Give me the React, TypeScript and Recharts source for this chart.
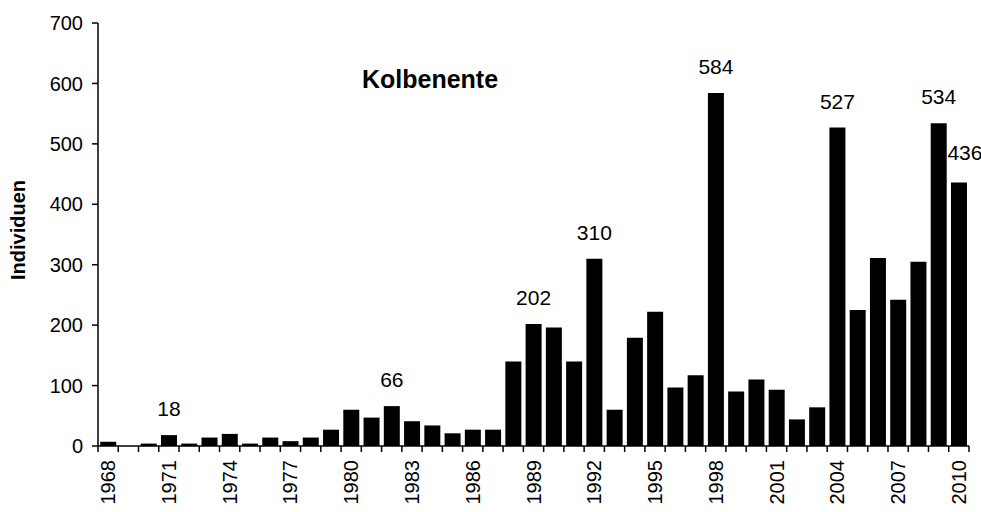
import React from 'react';
import { BarChart, Bar, XAxis, YAxis, LabelList } from 'recharts';

const years = [
  '1968', '1969', '1970', '1971', '1972', '1973', '1974', '1975', '1976', '1977',
  '1978', '1979', '1980', '1981', '1982', '1983', '1984', '1985', '1986', '1987',
  '1988', '1989', '1990', '1991', '1992', '1993', '1994', '1995', '1996', '1997',
  '1998', '1999', '2000', '2001', '2002', '2003', '2004', '2005', '2006', '2007',
  '2008', '2009', '2010',
];
const counts = [
  7, 0, 4, 18, 4, 14, 20, 4, 14, 8,
  14, 27, 60, 47, 66, 41, 34, 21, 27, 27,
  140, 202, 196, 140, 310, 60, 179, 222, 97, 117,
  584, 90, 110, 93, 44, 64, 527, 225, 311, 242,
  305, 534, 436,
];
const labeledYears = ['1971', '1982', '1989', '1992', '1998', '2004', '2009', '2010'];
const yTicks = [0, 100, 200, 300, 400, 500, 600, 700];
const xTickLabels = ['1968', '1971', '1974', '1977', '1980', '1983', '1986', '1989', '1992', '1995', '1998', '2001', '2004', '2007', '2010'];
const chartTitle = 'Kolbenente';
const yAxisTitle = 'Individuen';

const data = years.map((y, i) => ({ year: y, value: counts[i] }));

const W = 981;
const H = 512;
const M = { top: 23, right: 12, bottom: 0, left: 0 };
const Y_AXIS_W = 98;
const X_AXIS_H = 66;
const PLOT_LEFT = M.left + Y_AXIS_W;
const PLOT_RIGHT = W - M.right;
const BAND = (PLOT_RIGHT - PLOT_LEFT) / years.length;
const BASE = H - M.bottom - X_AXIS_H;
const FONT = '"Liberation Sans", Arial, sans-serif';

const XTick = (props: any) => {
  const { x, payload } = props;
  const idx = years.indexOf(String(payload.value));
  const left = x - BAND / 2;
  const isLast = idx === years.length - 1;
  const show = xTickLabels.includes(String(payload.value));
  const ty = BASE + 14;
  return (
    <g>
      <line x1={left} x2={left} y1={BASE} y2={BASE + 6} stroke="#000" strokeWidth={1.5} />
      {isLast && (
        <line x1={x + BAND / 2} x2={x + BAND / 2} y1={BASE} y2={BASE + 6} stroke="#000" strokeWidth={1.5} />
      )}
      {show && (
        <text
          x={x}
          y={ty}
          transform={`rotate(-90 ${x} ${ty})`}
          textAnchor="end"
          dominantBaseline="central"
          fontSize={20}
          fontFamily={FONT}
          fill="#000"
        >
          {payload.value}
        </text>
      )}
    </g>
  );
};

const ValueLabel = (props: any) => {
  const { x, y, width, value } = props;
  const cx = Number(x) + Number(width) / 2;
  const idx = Math.floor((cx - PLOT_LEFT) / BAND);
  const yr = years[idx];
  if (!labeledYears.includes(yr)) return null;
  const isLast = yr === '2010';
  return (
    <text
      x={cx + (isLast ? 6 : 0)}
      y={Number(y) - (isLast ? 23 : 19)}
      textAnchor="middle"
      fontSize={21}
      fontFamily={FONT}
      fill="#000"
    >
      {value}
    </text>
  );
};

export default function App() {
  return (
    <div style={{ position: 'absolute', left: 0, top: 0, width: W, height: H, background: '#fff' }}>
      <BarChart width={W} height={H} data={data} margin={M} barCategoryGap="11%">
        <XAxis
          dataKey="year"
          interval={0}
          height={X_AXIS_H}
          tick={<XTick />}
          tickLine={false}
          axisLine={{ stroke: '#000', strokeWidth: 1.5 }}
        />
        <YAxis
          width={Y_AXIS_W}
          domain={[0, 700]}
          ticks={yTicks}
          interval={0}
          tickSize={6}
          tickMargin={9}
          axisLine={{ stroke: '#000', strokeWidth: 1.5 }}
          tickLine={{ stroke: '#000', strokeWidth: 1.5 }}
          tick={{ fill: '#000', fontSize: 20, fontFamily: FONT }}
        />
        <Bar dataKey="value" fill="#000" isAnimationActive={false}>
          <LabelList dataKey="value" content={<ValueLabel />} />
        </Bar>
      </BarChart>
      <svg width={W} height={H} style={{ position: 'absolute', left: 0, top: 0, pointerEvents: 'none' }}>
        <text x={430} y={88} textAnchor="middle" fontSize={25} fontWeight="bold" fontFamily={FONT} fill="#000">
          {chartTitle}
        </text>
        <text
          x={18}
          y={230}
          transform="rotate(-90 18 230)"
          textAnchor="middle"
          dominantBaseline="central"
          fontSize={20}
          fontWeight="bold"
          fontFamily={FONT}
          fill="#000"
        >
          {yAxisTitle}
        </text>
      </svg>
    </div>
  );
}
